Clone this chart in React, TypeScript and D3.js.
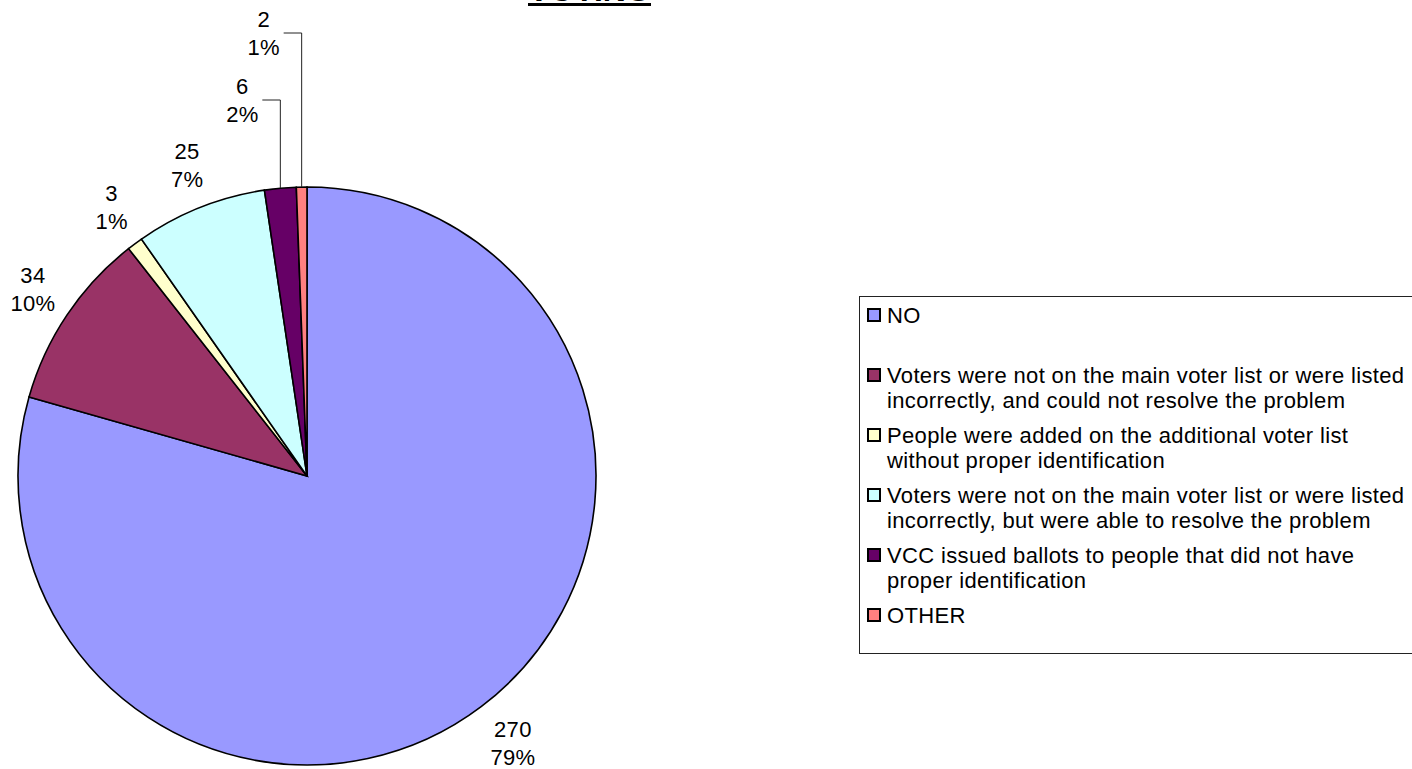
import * as d3 from "d3";

const categories = [
  "NO",
  "Voters were not on the main voter list or were listed incorrectly, and could not resolve the problem",
  "People were added on the additional voter list without proper identification",
  "Voters were not on the main voter list or were listed incorrectly, but were able to resolve the problem",
  "VCC issued ballots to people that did not have proper identification",
  "OTHER",
];
const counts = [270, 34, 3, 25, 6, 2];
const percents = ["79%", "10%", "1%", "7%", "2%", "1%"];
const colors = ["#9999FF", "#993366", "#FFFFCC", "#CCFFFF", "#660066", "#FF8080"];

// legend text, already wrapped the way Excel wrapped it
const legendLines = [
  ["NO"],
  ["Voters were not on the main voter list or were listed", "incorrectly, and could not resolve the problem"],
  ["People were added on the additional voter list", "without proper identification"],
  ["Voters were not on the main voter list or were listed", "incorrectly, but were able to resolve the problem"],
  ["VCC issued ballots to people that did not have", "proper identification"],
  ["OTHER"],
];

const W = 1412;
const H = 769;
const FONT = "Arial, 'Liberation Sans', sans-serif";

export default function App() {
  const cx = 307;
  const cy = 476;
  const r = 289;
  const labelR = 335;
  // labels that were dragged up with a leader line: height of the label above the centre
  const leaderRise: Record<number, number> = { 4: 376, 5: 443 };

  const pie = d3
    .pie<number>()
    .sort(null)
    .value((d) => d);
  const arcs = pie(counts);
  const arc = d3.arc<d3.PieArcDatum<number>>().innerRadius(0).outerRadius(r);

  const polar = (a: number, rad: number) => [Math.sin(a) * rad, -Math.cos(a) * rad];

  return (
    <svg
      width={W}
      height={H}
      style={{ position: "absolute", left: 0, top: 0, background: "#fff" }}
      fontFamily={FONT}
    >
      <text x={589.5} y={1} textAnchor="middle" fontSize={32} fontWeight="bold">
        VOTING
      </text>
      <rect x={528} y={3} width={123} height={3} fill="#000" />

      <g transform={`translate(${cx},${cy})`}>
        {arcs.map((a, i) => (
          <path key={i} d={arc(a) ?? ""} fill={colors[i]} stroke="#000" strokeWidth={1.6} />
        ))}
        {arcs.map((a, i) => {
          const mid = (a.startAngle + a.endAngle) / 2;
          let lx: number;
          let ly: number;
          let leader: string | null = null;
          if (leaderRise[i] !== undefined) {
            const [ex, ey] = polar(mid, r);
            ly = -leaderRise[i];
            lx = ex - 38;
            leader = d3.line()([
              [ex, ey],
              [ex, ly],
              [lx + 20, ly],
            ]) as string;
          } else {
            [lx, ly] = polar(mid, labelR);
            lx += 4;
          }
          return (
            <g key={i}>
              {leader && <path d={leader} fill="none" stroke="#222" strokeWidth={1} />}
              <text x={lx} y={ly - 6} textAnchor="middle" fontSize={22} letterSpacing={0.3} fill="#000">
                {counts[i]}
              </text>
              <text x={lx} y={ly + 22} textAnchor="middle" fontSize={22} letterSpacing={0.3} fill="#000">
                {percents[i]}
              </text>
            </g>
          );
        })}
      </g>

      <g>
        <rect x={859.5} y={296.5} width={600} height={357} fill="#fff" stroke="#222" strokeWidth={1} />
        {categories.map((c, i) => {
          const base = 323 + i * 60;
          return (
            <g key={c}>
              <rect x={868} y={base - 14} width={12} height={12} fill={colors[i]} stroke="#000" strokeWidth={2} />
              {legendLines[i].map((t, j) => (
                <text key={j} x={887} y={base + j * 25} fontSize={22} letterSpacing={0.35} fill="#000">
                  {t}
                </text>
              ))}
            </g>
          );
        })}
      </g>
    </svg>
  );
}
